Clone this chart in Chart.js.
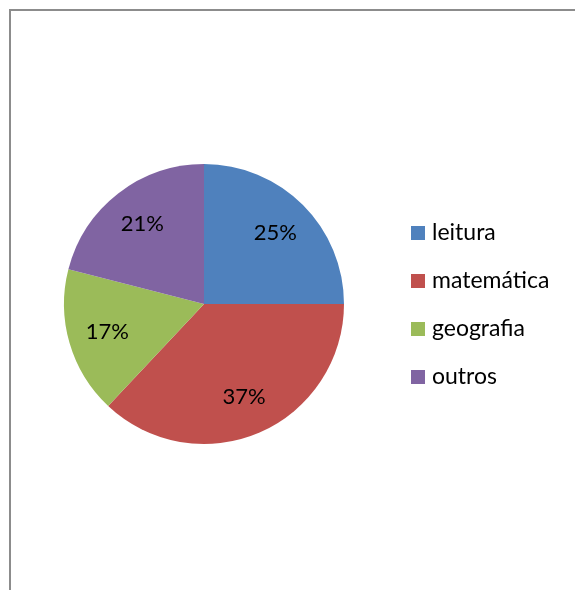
<!DOCTYPE html>
<html>
<head>
  <meta charset="utf-8">
  <title>index</title>
  <script src="https://cdn.jsdelivr.net/npm/chart.js"></script>
  <style>
    body { margin: 0; background: #fff; }
  </style>
</head>
<body>
  <canvas id="chart" width="575" height="590"></canvas>

  <script>
    const subjects = ['leitura', 'matemática', 'geografia', 'outros'];
    const shares = [25, 37, 17, 21];
    const sliceColors = ['#4f81bd', '#c0504d', '#9bbb59', '#8064a2'];

    const fontFamily = 'Lato, "Open Sans", sans-serif';

    // outer frame like the spreadsheet chart box
    const framePlugin = {
      id: 'frame',
      beforeDraw(chart) {
        const ctx = chart.ctx;
        ctx.save();
        ctx.strokeStyle = '#8c8c8c';
        ctx.lineWidth = 2;
        ctx.beginPath();
        ctx.moveTo(10, 600);
        ctx.lineTo(10, 10);
        ctx.lineTo(600, 10);
        ctx.stroke();
        ctx.restore();
      }
    };

    // percent labels inside the slices
    const percentPlugin = {
      id: 'percent',
      afterDatasetsDraw(chart) {
        const ctx = chart.ctx;
        const meta = chart.getDatasetMeta(0);
        const total = shares.reduce((a, b) => a + b, 0);
        ctx.save();
        ctx.font = '22px ' + fontFamily;
        ctx.fillStyle = '#000';
        ctx.textAlign = 'center';
        ctx.textBaseline = 'middle';
        meta.data.forEach((arc, i) => {
          const mid = (arc.startAngle + arc.endAngle) / 2;
          const r = arc.outerRadius * 0.72;
          const x = arc.x + Math.cos(mid) * r;
          const y = arc.y + Math.sin(mid) * r;
          ctx.fillText(Math.round(shares[i] / total * 100) + '%', x, y);
        });
        ctx.restore();
      }
    };

    // legend on the right
    const legendPlugin = {
      id: 'sideLegend',
      afterDraw(chart) {
        const ctx = chart.ctx;
        ctx.save();
        ctx.font = '23px ' + fontFamily;
        ctx.textBaseline = 'middle';
        subjects.forEach((name, i) => {
          const y = 233 + i * 48;
          ctx.fillStyle = sliceColors[i];
          ctx.fillRect(411, y - 7, 14, 14);
          ctx.fillStyle = '#000';
          ctx.fillText(name, 432, y);
        });
        ctx.restore();
      }
    };

    new Chart(document.getElementById('chart'), {
      type: 'pie',
      data: {
        labels: subjects,
        datasets: [{
          data: shares,
          backgroundColor: sliceColors,
          borderWidth: 0
        }]
      },
      options: {
        responsive: false,
        animation: false,
        layout: { padding: { left: 64, top: 164, right: 231, bottom: 146 } },
        plugins: {
          legend: { display: false },
          tooltip: { enabled: false }
        }
      },
      plugins: [framePlugin, percentPlugin, legendPlugin]
    });
  </script>
</body>
</html>
